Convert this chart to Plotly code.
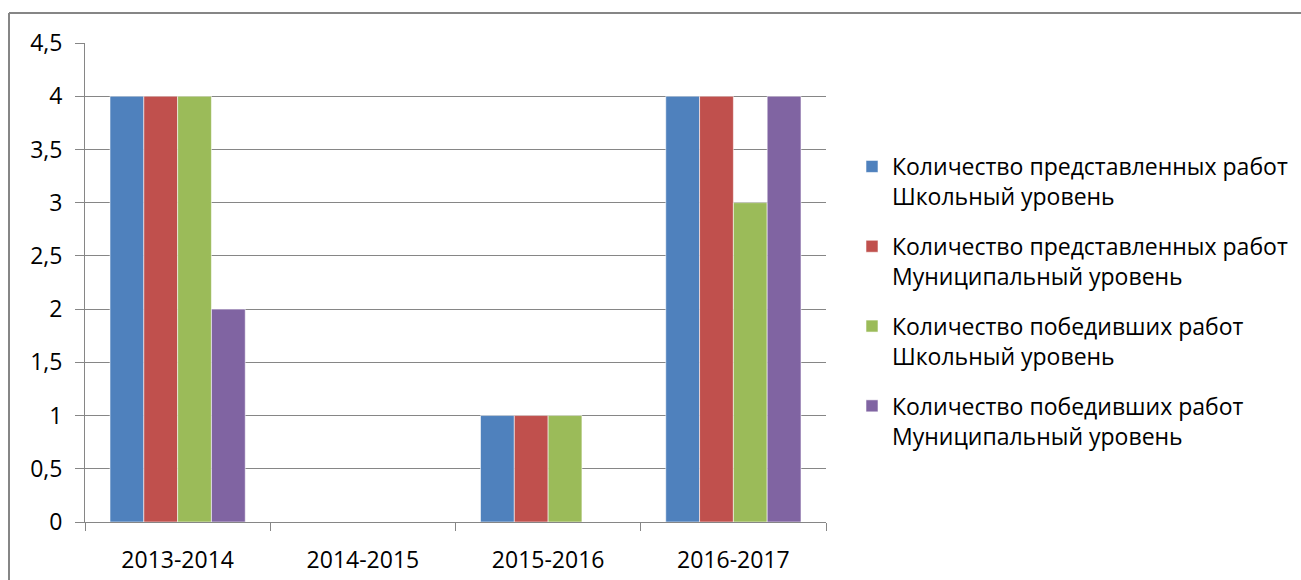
import plotly.graph_objects as go

categories = ["2013-2014", "2014-2015", "2015-2016", "2016-2017"]
series_names = [
    "Количество представленных работ<br>Школьный уровень",
    "Количество представленных работ<br>Муниципальный уровень",
    "Количество победивших работ<br>Школьный уровень",
    "Количество победивших работ<br>Муниципальный уровень",
]
pred_school = [4, 0, 1, 4]
pred_munic = [4, 0, 1, 4]
win_school = [4, 0, 1, 3]
win_munic = [2, 0, 0, 4]
colors = ["#4F81BD", "#C0504D", "#9BBB59", "#8064A2"]

W, H = 1301, 580
ML, MR, MT, MB = 85, 475, 43, 58
FONT = "Open Sans"
GRAY = "#868686"
FS = 23

fig = go.Figure()
for i, (name, vals) in enumerate(zip(series_names, [pred_school, pred_munic, win_school, win_munic])):
    fig.add_trace(go.Bar(
        x=categories, y=vals, name=name, legendgroup=f"g{i}",
        marker=dict(color=colors[i], line=dict(color="rgba(255,255,255,0.7)", width=0.8)),
    ))

pw = W - ML - MR
ph = H - MT - MB
bx0 = (9 - ML) / pw
by0 = (H - MB - 13) / ph

fig.update_layout(
    width=W, height=H, autosize=False,
    margin=dict(l=ML, r=MR, t=MT, b=MB, pad=0, autoexpand=False),
    paper_bgcolor="white", plot_bgcolor="white",
    barmode="group", bargap=0.27, bargroupgap=0,
    separators=", ",
    font=dict(family=FONT, size=FS, color="#000000"),
    showlegend=True,
    legend=dict(
        x=(852 - ML) / pw, y=(H - MB - 145) / ph, xanchor="left", yanchor="top",
        valign="top", font=dict(family=FONT, size=FS, color="#000000"),
        tracegroupgap=17, itemwidth=30, bgcolor="rgba(0,0,0,0)",
    ),
    xaxis=dict(
        showline=True, linecolor=GRAY, linewidth=1, automargin=False,
        ticks="outside", tickson="boundaries", ticklen=8, tickcolor=GRAY, tickwidth=1,
        showgrid=False, tickfont=dict(family=FONT, size=FS, color="#000000"),
        ticklabelstandoff=17,
    ),
    yaxis=dict(
        range=[0, 4.5], dtick=0.5, tick0=0, automargin=False,
        showline=True, linecolor=GRAY, linewidth=1,
        ticks="outside", ticklen=9, tickcolor=GRAY, tickwidth=1,
        showgrid=True, gridcolor=GRAY, gridwidth=1, zeroline=False,
        tickfont=dict(family=FONT, size=FS, color="#000000"),
        ticklabelstandoff=8,
    ),
    shapes=[
        dict(type="line", xref="paper", yref="paper", x0=bx0, x1=(W + 20 - ML) / pw, y0=by0, y1=by0,
             line=dict(color=GRAY, width=2)),
        dict(type="line", xref="paper", yref="paper", x0=bx0, x1=bx0, y0=by0, y1=-(MB + 20) / ph,
             line=dict(color=GRAY, width=2)),
    ],
)

fig.write_html(
    "out.html",
    config={"displayModeBar": False},
    post_script="document.body.style.margin='0';document.body.style.overflow='hidden';",
)
